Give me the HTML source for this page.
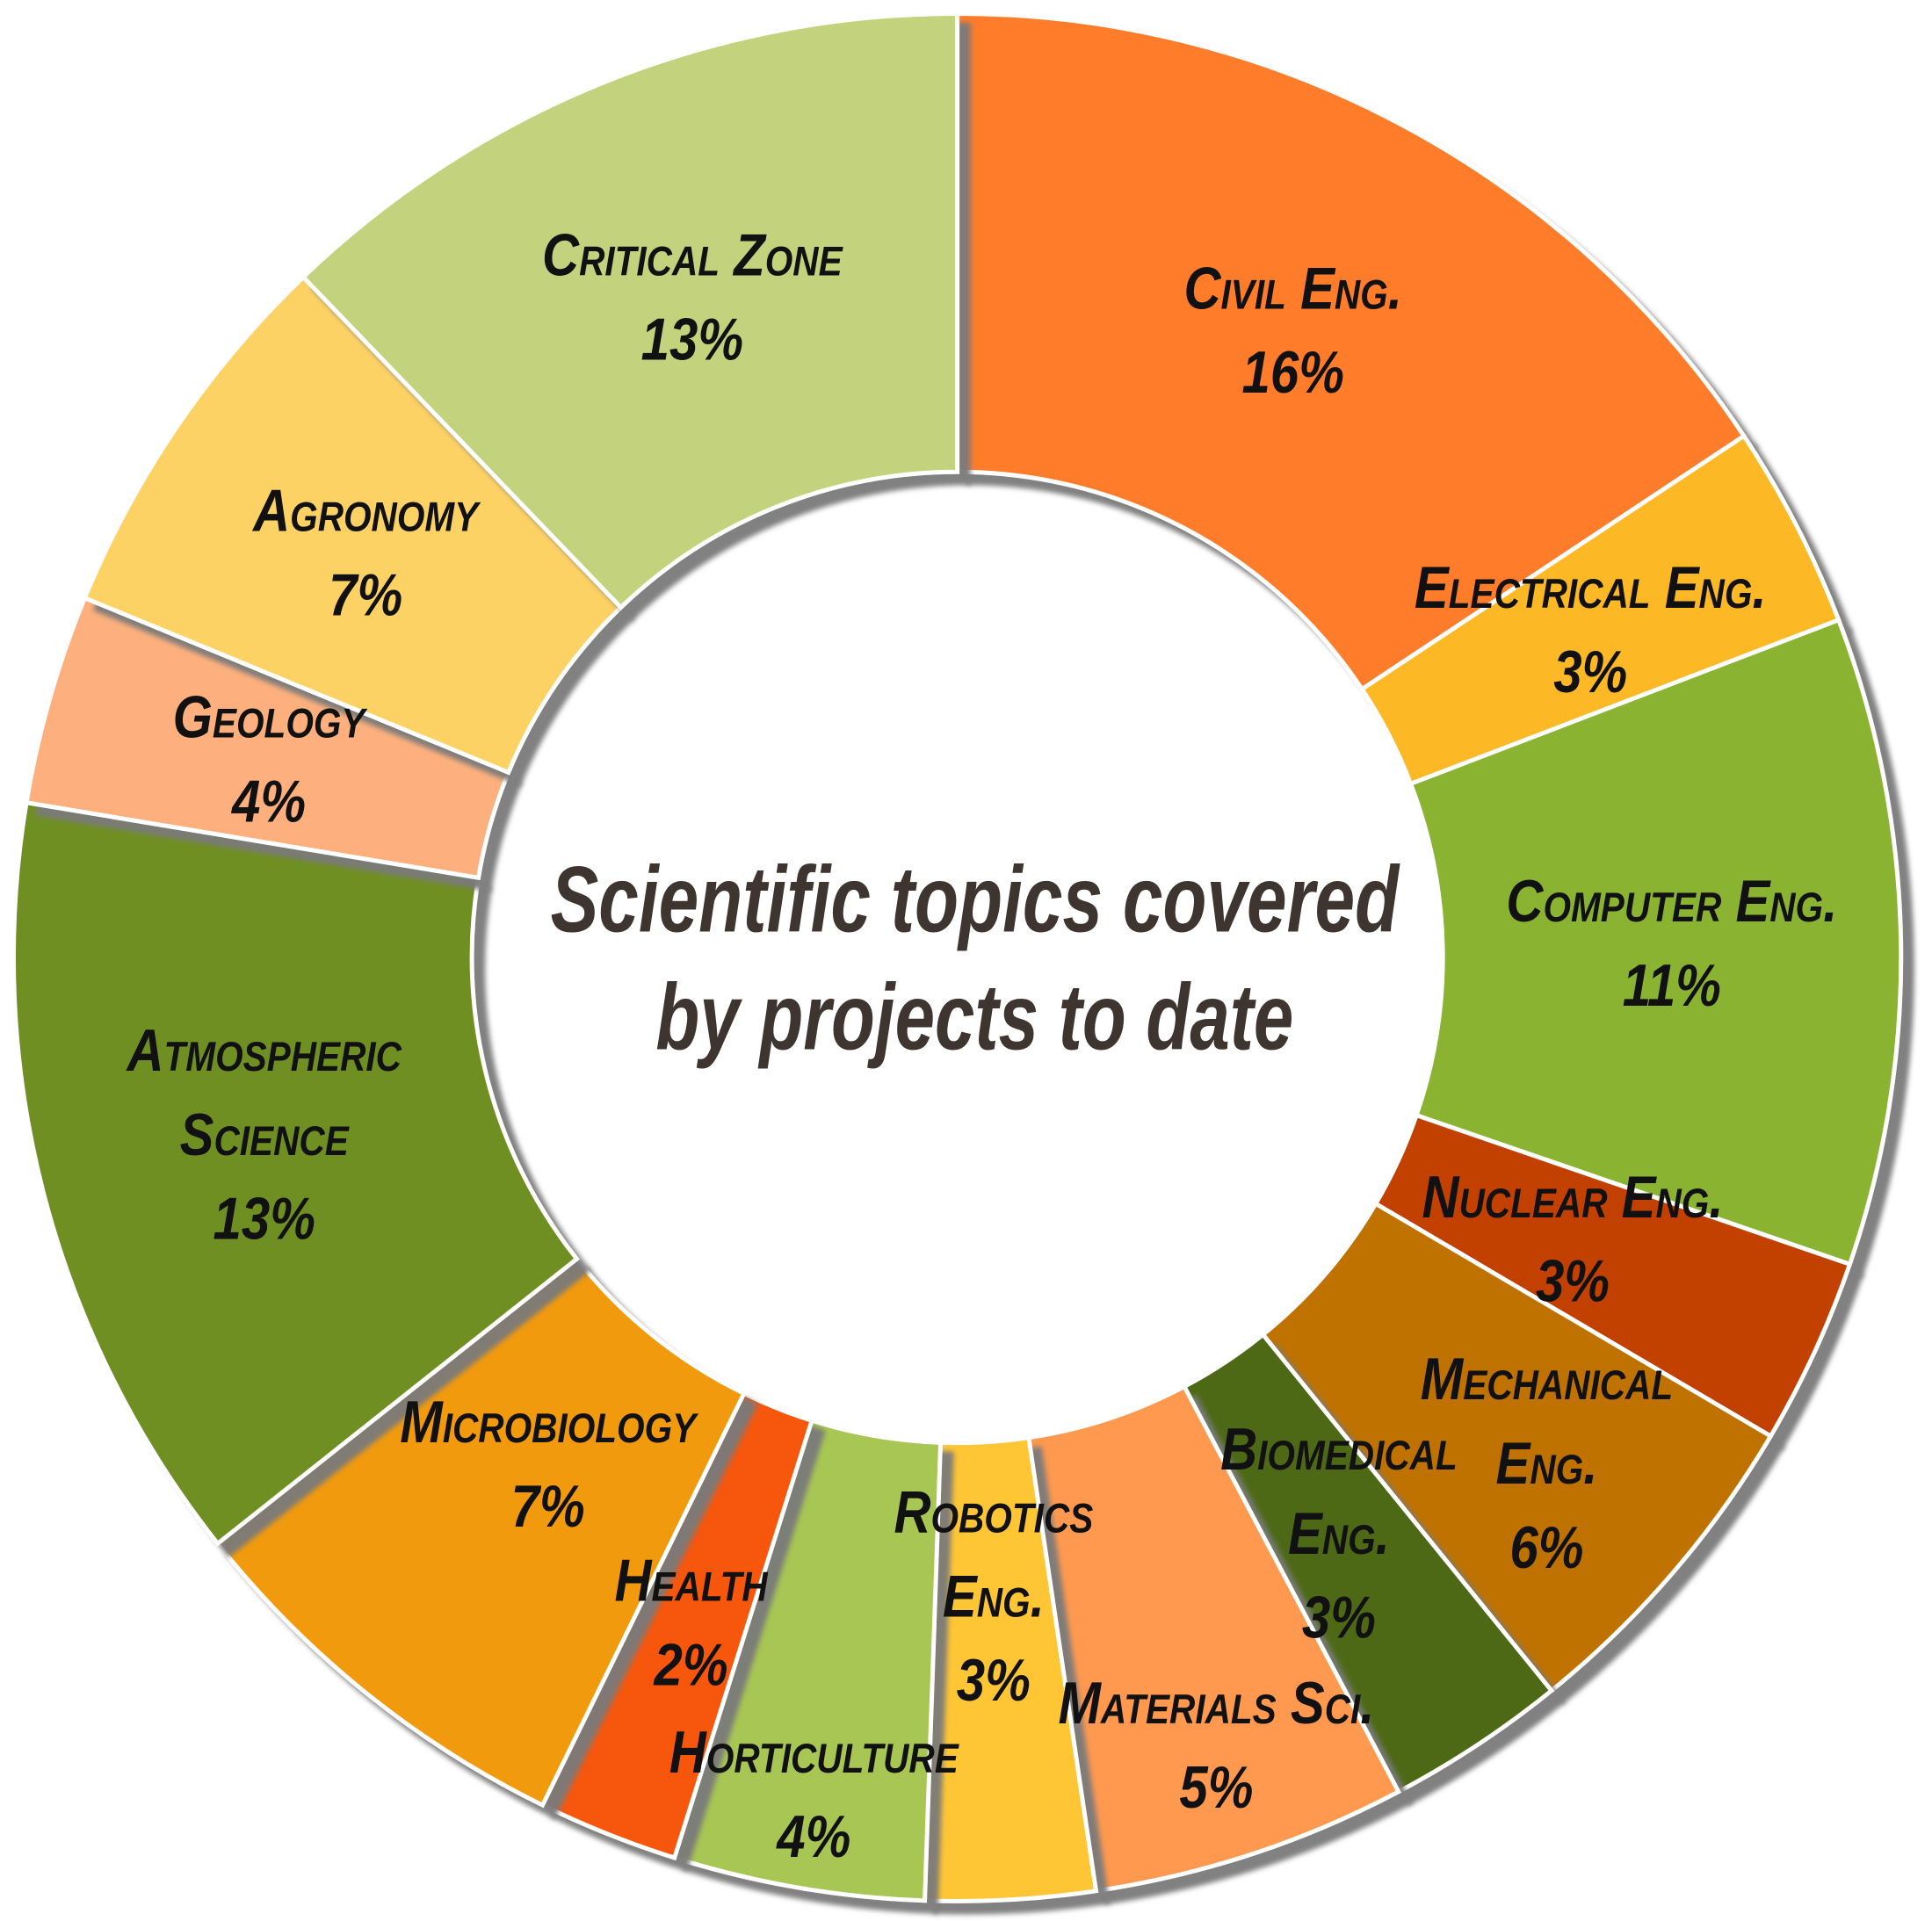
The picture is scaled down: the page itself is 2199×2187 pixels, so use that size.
<!DOCTYPE html>
<html><head><meta charset="utf-8"><style>
html,body{margin:0;padding:0;background:#fff;}
svg{display:block;}
.lbl{font-family:"Liberation Sans Narrow","Liberation Sans",sans-serif;font-weight:bold;font-style:italic;font-variant:small-caps;font-size:48px;fill:#111;text-anchor:middle;}
.ttl{font-family:"Liberation Sans Narrow","Liberation Sans",sans-serif;font-weight:bold;font-style:italic;font-size:76px;fill:#3f3530;text-anchor:middle;}
</style></head><body>
<svg id="chart" width="2199" height="2187" viewBox="0 0 1560 1551" preserveAspectRatio="none" xmlns="http://www.w3.org/2000/svg">
<defs><filter id="sh" x="-20%" y="-20%" width="140%" height="140%"><feDropShadow dx="9" dy="9" stdDeviation="2" flood-color="#7a7a7a" flood-opacity="0.95"/></filter></defs>
<g id="slices"></g>
<g id="labels"></g>
<text class="ttl" x="787" y="752" textLength="685" lengthAdjust="spacingAndGlyphs">Scientific topics covered</text>
<text class="ttl" x="787" y="847" textLength="515" lengthAdjust="spacingAndGlyphs">by projects to date</text>
</svg>
<script>
const categories=["Civil Eng.","Electrical Eng.","Computer Eng.","Nuclear Eng.","Mechanical Eng.","Biomedical Eng.","Materials Sci.","Robotics Eng.","Horticulture","Health","Microbiology","Atmospheric Science","Geology","Agronomy","Critical Zone"];
const values=[15.7,3.5,11.1,3.2,5.7,3.1,5.4,2.9,4.3,2.4,7.1,13.3,3.6,6.6,12.2];
const valueLabels=["16%","3%","11%","3%","6%","3%","5%","3%","4%","2%","7%","13%","4%","7%","13%"];
const colors=["#FE7C2B","#FDB827","#8BB332","#C24004","#BF7204","#4E6915","#FE9950","#FEC634","#A8C653","#F7570A","#F19A0A","#6F8F24","#FDB07D","#FDD265","#C3D37D"];
const labelRadius=[573,575,577,547,628,559,671,518,687,580,527,578,578,578,573];
const cx=773,cy=773,R=762,r0=392;
const NS="http://www.w3.org/2000/svg";
const total=values.reduce((a,b)=>a+b,0);
function pt(a,rad){return [cx+rad*Math.sin(a),cy-rad*Math.cos(a)];}
const sg=document.getElementById('slices'),lg=document.getElementById('labels');
let acc=0;
const lines={"Atmospheric Science":["Atmospheric","Science"],"Robotics Eng.":["Robotics","Eng."],"Biomedical Eng.":["Biomedical","Eng."],"Mechanical Eng.":["Mechanical","Eng."]};
categories.forEach((c,i)=>{
  const a0=acc/total*2*Math.PI, a1=(acc+values[i])/total*2*Math.PI; acc+=values[i];
  const p1=pt(a0,R),p2=pt(a1,R),p3=pt(a1,r0),p4=pt(a0,r0);
  const lg1=(a1-a0)>Math.PI?1:0;
  const p=document.createElementNS(NS,'path');
  p.setAttribute('d',`M${p1}A${R},${R} 0 ${lg1} 1 ${p2}L${p3}A${r0},${r0} 0 ${lg1} 0 ${p4}Z`);
  p.setAttribute('fill',colors[i]);p.setAttribute('stroke','#fff');p.setAttribute('stroke-width','3.5');
  p.setAttribute('filter','url(#sh)');
  
  
  sg.appendChild(p);
  const am=(a0+a1)/2; const lp=pt(am,labelRadius[i]);
  const ls=(lines[c]||[c]).concat([valueLabels[i]]);
  const t=document.createElementNS(NS,'text');
  t.setAttribute('class','lbl');t.setAttribute('x',lp[0]);
  t.setAttribute('transform',`translate(${lp[0]},0) scale(0.86,1) translate(${-lp[0]},0)`);
  
  
  const y0=lp[1]-(ls.length-1)*34+15;
  ls.forEach((s,k)=>{const ts=document.createElementNS(NS,'tspan');ts.setAttribute('x',lp[0]);ts.setAttribute('y',y0+k*68);ts.textContent=s;t.appendChild(ts);});
  lg.appendChild(t);
});
</script>
</body></html>
